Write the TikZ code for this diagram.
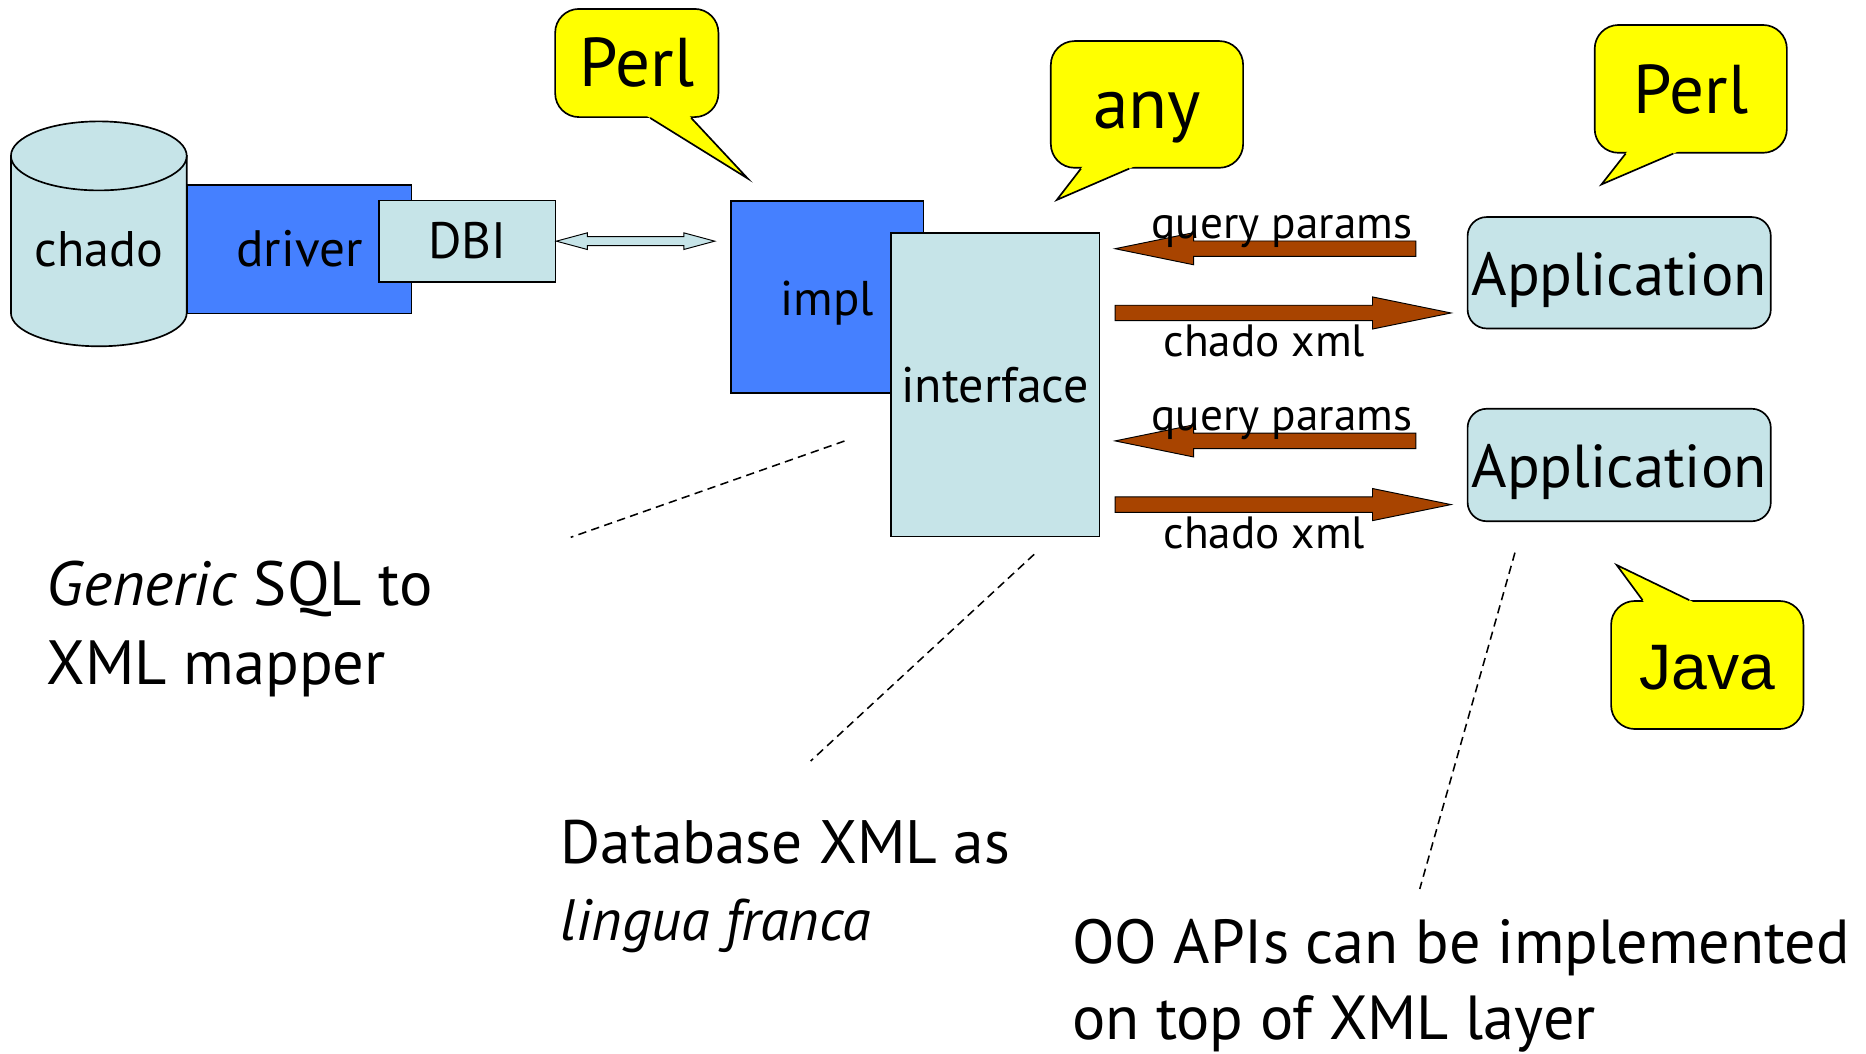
\documentclass[tikz,border=0pt]{standalone}
\usepackage{fontspec}
\setmainfont{PT Sans}
\newfontfamily\javafont{Liberation Sans}
\usetikzlibrary{calc}

\definecolor{dbcyan}{RGB}{198,228,232}
\definecolor{implblue}{RGB}{69,128,255}
\definecolor{pipebrown}{RGB}{168,68,0}
\definecolor{noteyellow}{RGB}{255,255,0}

\newcommand\fs[1]{\fontsize{#1}{#1}\selectfont}

% fat brown arrow from #1 (tail) to #2 (tip)
\newcommand\pipearrow[2]{%
  \filldraw[pipe] ($(#1)+(0,-6.5)$) -- ($(#2)!66pt!(#1)+(0,-6.5)$)
    -- ($(#2)!66pt!(#1)+(0,-13.5)$) -- (#2) -- ($(#2)!66pt!(#1)+(0,13.5)$)
    -- ($(#2)!66pt!(#1)+(0,6.5)$) -- ($(#1)+(0,6.5)$) -- cycle;}

% hollow double-headed arrow between #1 and #2
\newcommand\linkarrow[2]{%
  \filldraw[link] (#1) -- ($(#1)!26pt!(#2)+(0,-7)$) -- ($(#1)!26pt!(#2)+(0,-3.8)$)
    -- ($(#2)!26pt!(#1)+(0,-3.8)$) -- ($(#2)!26pt!(#1)+(0,-7)$) -- (#2)
    -- ($(#2)!26pt!(#1)+(0,7)$) -- ($(#2)!26pt!(#1)+(0,3.8)$)
    -- ($(#1)!26pt!(#2)+(0,3.8)$) -- ($(#1)!26pt!(#2)+(0,7)$) -- cycle;}

% pointer of a speech bubble: #1,#2 on the outline, #3 the tip
\newcommand\notetail[3]{%
  \fill[noteyellow] (#3) -- ($(#3)!1.15!(#1)$) -- ($(#3)!1.15!(#2)$) -- cycle;
  \draw[line width=1.4pt, line join=miter] (#1) -- (#3) -- (#2);}

\begin{document}
\begin{tikzpicture}[x=1pt, y=-1pt,
  box/.style={draw, line width=1.4pt, inner sep=0pt, text depth=0pt},
  lightbox/.style={box, fill=dbcyan},
  bluebox/.style={box, fill=implblue},
  appbox/.style={lightbox, rounded corners=16pt},
  note/.style={draw, line width=1.4pt, fill=noteyellow, rounded corners=20pt,
    inner sep=0pt, text depth=0pt},
  pipe/.style={draw=black, line width=0.8pt, fill=pipebrown, line join=miter},
  link/.style={draw=black, line width=0.8pt, fill=dbcyan, line join=miter},
  guide/.style={draw, line width=1.3pt, dash pattern=on 7pt off 4.5pt},
  lbl/.style={inner sep=0pt, anchor=base, font=\fs{38}},
  remark/.style={inner sep=0pt, anchor=base west, font=\fs{52.5}},
]
\useasboundingbox (0,0) rectangle (1568,885);

% database side
\node[bluebox, minimum width=188.3, minimum height=107.8, text height=29.2,
  font=\fs{43}] (driver) at (251.65,209.4) {driver};
\filldraw[fill=dbcyan, line width=1.4pt] (9.2,131) -- (9.2,263)
  arc[start angle=180, end angle=360, x radius=73.85pt, y radius=28pt]
  -- (156.9,131) -- cycle;
\filldraw[fill=dbcyan, line width=1.4pt] (83.05,131) ellipse[x radius=73.85pt, y radius=29pt];
\node[inner sep=0pt, anchor=base, font=\fs{42}] (chado) at (83.3,224) {chado};
\node[lightbox, minimum width=148.3, minimum height=68.1, text height=29,
  font=\fs{43}] (DBI) at (392.65,202.65) {DBI};

% implementation and interface
\node[bluebox, minimum width=161.6, minimum height=161, text height=32,
  font=\fs{41}] (impl) at (695.1,249.5) {impl};
\node[lightbox, minimum width=175.3, minimum height=255.3, text height=30.4,
  font=\fs{42}] (iface) at (836.15,323.25) {interface};

\coordinate (implport) at ($(impl.west |- DBI.east)+(-13,0)$);
\linkarrow{DBI.east}{implport}

% applications
\node[appbox, minimum width=254.8, minimum height=93.6, text height=38.4,
  font=\fs{51}] (app1) at (1360.6,229.2) {Application};
\node[appbox, minimum width=254.8, minimum height=94.5, text height=38.4,
  font=\fs{51}] (app2) at (1360.6,390.75) {Application};

% request / response traffic
\coordinate (q1app) at (1189.8,209);
\coordinate (q1if)  at (937,209);
\coordinate (x1if)  at (937,263);
\coordinate (x1app) at (1219.3,263);
\coordinate (q2app) at (1189.8,370.5);
\coordinate (q2if)  at (937,370.5);
\coordinate (x2if)  at (937,424);
\coordinate (x2app) at (1219.3,424);
\pipearrow{q1app}{q1if}
\pipearrow{x1if}{x1app}
\pipearrow{q2app}{q2if}
\pipearrow{x2if}{x2app}
\node[lbl] (q1lbl) at (1077.2,200.4) {query params};
\node[lbl] (x1lbl) at (1062.4,299.4) {chado xml};
\node[lbl] (q2lbl) at (1077.2,361.5) {query params};
\node[lbl] (x2lbl) at (1062.4,460.5) {chado xml};

% language notes
\node[note, minimum width=137.2, minimum height=90.9, text height=39.8,
  font=\fs{58}] (perlA) at (535.1,52.95) {Perl};
\notetail{$(perlA.south west)+(80.5,0)$}{$(perlA.south west)+(115,0)$}{628.3,150}
\node[note, minimum width=161.6, minimum height=106.5, text height=40.5,
  font=\fs{60}] (anyN) at (963.8,87.75) {any};
\notetail{$(anyN.south west)+(26,0)$}{$(anyN.south west)+(66.6,0)$}{888,168}
\node[note, minimum width=161.5, minimum height=107.4, text height=41.4,
  font=\fs{58}] (perlB) at (1420.75,74.7) {Perl};
\notetail{$(perlB.south west)+(26.7,0)$}{$(perlB.south west)+(66.7,0)$}{1345.7,155}
\node[note, minimum width=161.6, minimum height=107.6, text height=40.4,
  font=\javafont\fs{54}] (javaN) at (1434.6,558.8) {Java};
\notetail{$(javaN.north west)+(27.1,0)$}{$(javaN.north west)+(66.4,0)$}{1358.5,474.8}

% remarks and their guide lines
\coordinate (g1a) at (709.6,370.6);
\coordinate (g1b) at (479.6,451.5);
\coordinate (g2a) at (869,465.8);
\coordinate (g2b) at (681.2,639.5);
\coordinate (g3a) at (1273,464.4);
\coordinate (g3b) at (1193,747);
\draw[guide] (g1a) -- (g1b);
\draw[guide] (g2a) -- (g2b);
\draw[guide] (g3a) -- (g3b);

\node[remark] (r1a) at (39,508.4) {\textit{Generic} SQL to};
\node[remark] (r1b) at (39,575.6) {XML mapper};
\node[remark, font=\fs{51.5}] (r2a) at (471,725.5) {Database XML as};
\node[remark, font=\fs{49}] (r2b) at (471,790) {\textit{lingua franca}};
\node[remark, font=\fs{52.3}] (r3a) at (900.6,809.5) {OO APIs can be implemented};
\node[remark, font=\fs{52.3}] (r3b) at (900.6,873.4) {on top of XML layer};
\end{tikzpicture}
\end{document}
